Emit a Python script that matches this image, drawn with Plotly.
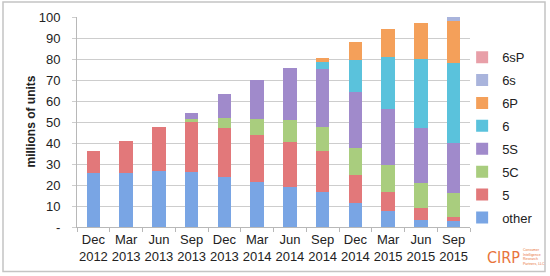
import plotly.graph_objects as go

quarters = ["Dec<br>2012", "Mar<br>2013", "Jun<br>2013", "Sep<br>2013", "Dec<br>2013", "Mar<br>2014",
            "Jun<br>2014", "Sep<br>2014", "Dec<br>2014", "Mar<br>2015", "Jun<br>2015", "Sep<br>2015"]

other = [25.5, 25.5, 26.8, 26.0, 24.0, 21.6, 19.2, 16.8, 11.3, 7.6, 3.3, 3.0]
m5    = [10.5, 15.5, 21.0, 24.1, 23.0, 22.2, 21.4, 19.5, 13.5, 8.9, 5.6, 1.6]
m5C   = [0, 0, 0, 1.2, 4.8, 7.6, 10.4, 11.5, 12.9, 13.0, 12.2, 11.7]
m5S   = [0, 0, 0, 2.8, 11.5, 18.6, 24.9, 27.3, 26.7, 26.7, 25.9, 23.5]
m6    = [0, 0, 0, 0, 0, 0, 0, 3.6, 15.1, 24.9, 32.8, 38.4]
m6P   = [0, 0, 0, 0, 0, 0, 0, 1.6, 8.7, 13.0, 17.5, 20.0]
m6s   = [0, 0, 0, 0, 0, 0, 0, 0, 0, 0, 0, 1.8]
m6sP  = [0, 0, 0, 0, 0, 0, 0, 0, 0, 0, 0, 0]

series = [
    ("other", other, "#79a5e4"),
    ("5", m5, "#e2787a"),
    ("5C", m5C, "#a9cd7e"),
    ("5S", m5S, "#a08acb"),
    ("6", m6, "#5ac2dc"),
    ("6P", m6P, "#f4a05a"),
    ("6s", m6s, "#a9b4dc"),
    ("6sP", m6sP, "#e89fa8"),
]

y_ticks = [0, 10, 20, 30, 40, 50, 60, 70, 80, 90, 100]
y_ticktext = ["-", "10", "20", "30", "40", "50", "60", "70", "80", "90", "100"]

fig = go.Figure()
n = len(series)
for i, (name, vals, color) in enumerate(series):
    fig.add_trace(go.Bar(x=quarters, y=vals, name=name, legendgroup=name,
                         legendrank=n - i,
                         marker=dict(color=color, line=dict(width=0))))

font_family = "Liberation Sans, Arial, Helvetica, sans-serif"

fig.update_layout(
    width=550, height=276,
    margin=dict(l=77, r=80, t=17, b=49, autoexpand=False),
    barmode="stack", bargap=0.59,
    paper_bgcolor="white", plot_bgcolor="white",
    font=dict(family=font_family, size=13, color="#222222"),
    showlegend=True,
    legend=dict(x=0.98, y=0.88, xanchor="left", yanchor="top",
                traceorder="grouped", tracegroupgap=3,
                font=dict(size=13, color="#222222"),
                itemwidth=30, bgcolor="rgba(0,0,0,0)"),
    xaxis=dict(showgrid=False, showline=True, linecolor="#b8b8b8", linewidth=1,
               ticks="outside", tickson="boundaries", ticklen=4, tickcolor="#b8b8b8",
               tickangle=0, tickfont=dict(size=13), fixedrange=True),
    yaxis=dict(range=[0, 100], tickvals=y_ticks, ticktext=y_ticktext,
               showgrid=True, gridcolor="#cdcdcd", gridwidth=1,
               showline=True, linecolor="#b8b8b8", linewidth=1,
               ticks="outside", ticklen=4, tickcolor="#cdcdcd",
               ticklabelstandoff=9, zeroline=False),
)

# y-axis title
fig.add_annotation(xref="paper", yref="paper", x=(30 - 77) / 393, y=(227 - 121.5) / 210,
                   text="<b>millions of units</b>", textangle=-90, showarrow=False,
                   font=dict(size=12, color="#222222"),
                   xanchor="center", yanchor="middle")

# outer frame
fig.add_shape(type="rect", xref="paper", yref="paper",
              x0=(3 - 77) / 393, x1=(545 - 77) / 393,
              y0=(227 - 271.5) / 210, y1=(227 - 2) / 210,
              line=dict(color="#c4c4c4", width=1.5), fillcolor="rgba(0,0,0,0)", layer="below")

# CIRP logo as text
fig.add_annotation(xref="paper", yref="paper", x=(522 - 77) / 393, y=(227 - 257) / 210,
                   text="CIRP", showarrow=False,
                   font=dict(family="DejaVu Sans Condensed, Liberation Sans Narrow, Arial Narrow, sans-serif",
                             size=16, color="#e8743b"),
                   xanchor="right", yanchor="middle")
fig.add_annotation(xref="paper", yref="paper", x=(521 - 77) / 393, y=(227 - 257) / 210,
                   text="Consumer<br>Intelligence<br>Research<br>Partners, LLC", showarrow=False,
                   font=dict(family=font_family, size=3.5, color="#e8743b"),
                   xanchor="left", yanchor="middle", align="left")

fig.write_html("out.html")
